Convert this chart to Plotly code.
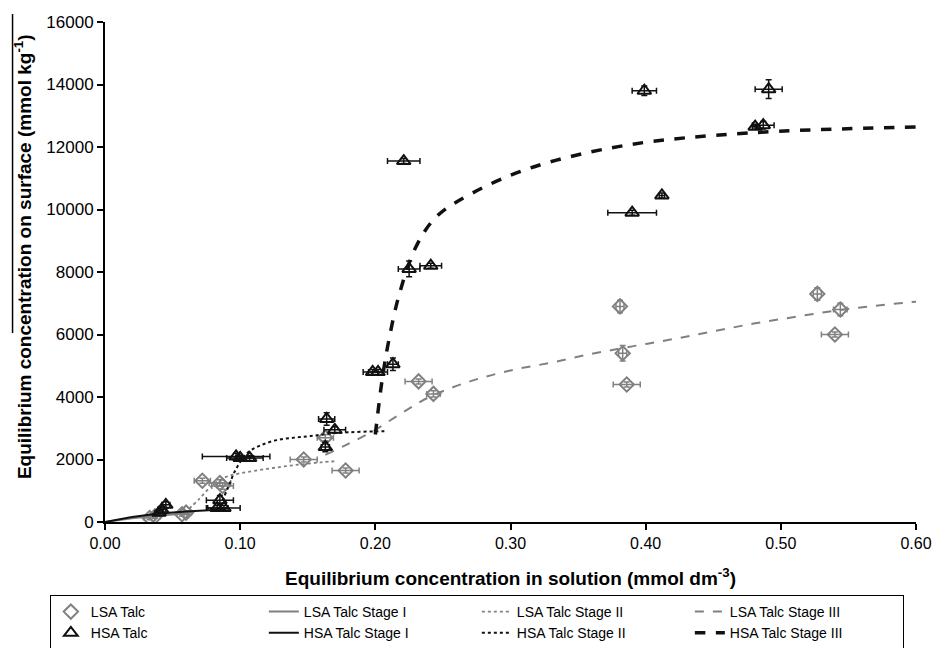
import plotly.graph_objects as go

# ---- data ----
lsa_x = [0.033, 0.037, 0.057, 0.060, 0.072, 0.085, 0.087, 0.147, 0.163, 0.178,
         0.232, 0.243, 0.381, 0.383, 0.386, 0.527, 0.544, 0.540]
lsa_y = [130, 180, 250, 300, 1320, 1250, 1150, 2000, 2700, 1650,
         4500, 4100, 6900, 5400, 4400, 7300, 6800, 6000]
lsa_ex = [0.004, 0.004, 0.004, 0.004, 0.006, 0.008, 0.008, 0.010, 0.006, 0.010,
          0.010, 0.005, 0.003, 0.003, 0.010, 0.003, 0.005, 0.010]
lsa_ey = [60, 60, 60, 60, 80, 100, 100, 80, 100, 80,
          80, 100, 200, 250, 80, 200, 200, 80]

hsa_x = [0.040, 0.042, 0.045, 0.083, 0.085, 0.088, 0.097, 0.100, 0.107, 0.164,
         0.170, 0.163, 0.198, 0.202, 0.213, 0.221, 0.225, 0.241, 0.390, 0.412,
         0.399, 0.481, 0.487, 0.491]
hsa_y = [300, 400, 550, 450, 700, 450, 2100, 2050, 2050, 3300,
         2950, 2400, 4800, 4800, 5050, 11550, 8100, 8200, 9900, 10450,
         13800, 12650, 12700, 13850]
hsa_ex = [0.003, 0.003, 0.003, 0.008, 0.010, 0.012, 0.025, 0.010, 0.010, 0.006,
          0.008, 0.003, 0.007, 0.007, 0.004, 0.012, 0.008, 0.008, 0.018, 0.002,
          0.009, 0.002, 0.008, 0.010]
hsa_ey = [80, 80, 100, 80, 150, 80, 100, 80, 80, 200,
          100, 150, 80, 80, 200, 80, 250, 80, 80, 80,
          150, 80, 120, 300]

lsa1_x = [0.0, 0.02, 0.04, 0.06]
lsa1_y = [0, 120, 210, 270]
lsa2_x = [0.059, 0.07, 0.08, 0.09, 0.10, 0.12, 0.14, 0.16, 0.172]
lsa2_y = [290, 750, 1200, 1450, 1560, 1700, 1820, 1910, 1950]
lsa3_x = [0.163, 0.18, 0.20, 0.22, 0.24, 0.27, 0.30, 0.33, 0.36, 0.39, 0.42, 0.45, 0.48, 0.51, 0.54, 0.57, 0.60]
lsa3_y = [2150, 2500, 2950, 3500, 4000, 4500, 4850, 5100, 5380, 5620, 5850, 6100, 6350, 6560, 6760, 6920, 7050]

hsa1_x = [0.0, 0.02, 0.04, 0.06, 0.09]
hsa1_y = [0, 160, 270, 340, 410]
hsa2_x = [0.085, 0.091, 0.097, 0.105, 0.115, 0.127, 0.14, 0.152, 0.165, 0.18, 0.20, 0.209]
hsa2_y = [500, 1100, 1700, 2200, 2450, 2620, 2700, 2750, 2820, 2870, 2900, 2900]
hsa3_x = [0.200, 0.205, 0.210, 0.218, 0.230, 0.245, 0.272, 0.317, 0.386, 0.477, 0.60]
hsa3_y = [2800, 4540, 5820, 7330, 8800, 9760, 10530, 11360, 12060, 12450, 12640]

x_title = "<b>Equilibrium concentration in solution (mmol dm<sup>-3</sup>)</b>"
y_title = "<b>Equilibrium concentration on surface (mmol kg<sup>-1</sup>)</b>"

GRAY = "#808080"
BLACK = "#111111"
FONT = "Liberation Sans, Arial, sans-serif"

fig = go.Figure()

fig.add_trace(go.Scatter(
    x=lsa_x, y=lsa_y, mode="markers", name="LSA Talc",
    marker=dict(symbol="diamond-open", size=11, color=GRAY, line=dict(width=2, color=GRAY)),
    error_x=dict(type="data", array=lsa_ex, color=GRAY, thickness=1.5, width=3),
    error_y=dict(type="data", array=lsa_ey, color=GRAY, thickness=1.5, width=3),
))
fig.add_trace(go.Scatter(x=lsa1_x, y=lsa1_y, mode="lines", name="LSA Talc Stage I",
                         line=dict(color=GRAY, width=2)))
fig.add_trace(go.Scatter(x=lsa2_x, y=lsa2_y, mode="lines", name="LSA Talc Stage II",
                         line=dict(color=GRAY, width=1.8, dash="dot", shape="spline")))
fig.add_trace(go.Scatter(x=lsa3_x, y=lsa3_y, mode="lines", name="LSA Talc Stage III",
                         line=dict(color=GRAY, width=2, dash="dash", shape="spline")))

fig.add_trace(go.Scatter(
    x=hsa_x, y=hsa_y, mode="markers", name="HSA Talc",
    marker=dict(symbol="triangle-up-open", size=12, color=BLACK, line=dict(width=2, color=BLACK)),
    error_x=dict(type="data", array=hsa_ex, color=BLACK, thickness=1.5, width=3),
    error_y=dict(type="data", array=hsa_ey, color=BLACK, thickness=1.5, width=3),
))
fig.add_trace(go.Scatter(x=hsa1_x, y=hsa1_y, mode="lines", name="HSA Talc Stage I",
                         line=dict(color=BLACK, width=2)))
fig.add_trace(go.Scatter(x=hsa2_x, y=hsa2_y, mode="lines", name="HSA Talc Stage II",
                         line=dict(color=BLACK, width=2, dash="dot", shape="spline")))
fig.add_trace(go.Scatter(x=hsa3_x, y=hsa3_y, mode="lines", name="HSA Talc Stage III",
                         line=dict(color=BLACK, width=3.5, dash="dash", shape="spline")))

fig.update_layout(
    width=934, height=648,
    margin=dict(l=105, r=18, t=22, b=126, autoexpand=False),
    plot_bgcolor="white", paper_bgcolor="white",
    font=dict(family=FONT, color="black", size=14),
    showlegend=True,
    legend=dict(
        orientation="h", x=-0.068, xanchor="left", y=-0.146, yanchor="top",
        entrywidth=168, entrywidthmode="pixels",
        bordercolor="black", borderwidth=1,
        font=dict(size=14, family=FONT), itemwidth=30,
        traceorder="normal", tracegroupgap=0,
    ),
    xaxis=dict(
        range=[0, 0.6], tickvals=[0, 0.1, 0.2, 0.3, 0.4, 0.5, 0.6],
        tickformat=".2f", showgrid=False, zeroline=False,
        showline=True, linecolor="black", linewidth=2,
        ticks="outside", ticklen=6, tickcolor="black", tickwidth=2,
        tickfont=dict(size=16),
        title=dict(text=x_title, font=dict(size=19), standoff=20),
    ),
    yaxis=dict(
        range=[0, 16000], dtick=2000, tickformat="d", showgrid=False, zeroline=False,
        showline=True, linecolor="black", linewidth=2,
        ticks="outside", ticklen=6, tickcolor="black", tickwidth=2,
        tickfont=dict(size=17),
    ),
    annotations=[dict(
        text=y_title, textangle=-90, xref="paper", yref="paper",
        x=-0.101, y=0.53, xanchor="center", yanchor="middle",
        showarrow=False, font=dict(size=19, family=FONT),
    )],
    shapes=[dict(
        type="line", xref="paper", yref="paper",
        x0=-0.114, x1=-0.114, y0=1.016, y1=0.378,
        line=dict(color="black", width=1.5),
    )],
)

# remove the page's default body margin so the figure fills the window exactly
fig.write_html(
    "out.html",
    config={"displayModeBar": False},
    post_script="document.body.style.margin='0';document.body.style.overflow='hidden';",
)
